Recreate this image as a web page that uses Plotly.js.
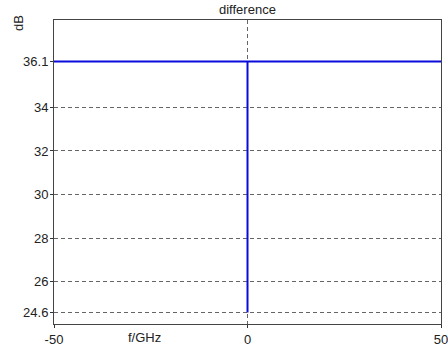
<!DOCTYPE html>
<html><head><meta charset="utf-8">
<script src="https://cdn.plot.ly/plotly-3.0.1.min.js"></script>
<style>html,body{margin:0;padding:0;background:#fff}#c{width:448px;height:347px}</style>
</head><body><div id="c"></div>
<script>
const freqGHz = [-50, 0, 0, 0, 50];
const diffDB = [36.1, 36.1, 24.6, 36.1, 36.1];
const xTicks = [-50, 0, 50];
const yTicks = [24.6, 26, 28, 30, 32, 34, 36.1];
const yTickText = ['24.6', '26', '28', '30', '32', '34', '36.1'];

const font = {family: 'Liberation Sans, Arial, sans-serif', size: 13, color: '#222'};
const sfont = {family: 'Liberation Sans, Arial, sans-serif', size: 13, color: '#222'};
Plotly.newPlot('c', [{
  x: freqGHz, y: diffDB, type: 'scatter', mode: 'lines',
  line: {color: '#0a0adc', width: 2}, hoverinfo: 'skip'
}], {
  width: 448, height: 347,
  margin: {l: 54, r: 7, t: 20, b: 23, pad: 0},
  paper_bgcolor: '#fff', plot_bgcolor: '#fff',
  showlegend: false, font: font,
  xaxis: {range: [-50, 50], tickvals: xTicks, ticktext: xTicks.map(String),
    showgrid: true, gridcolor: '#666', griddash: '4px,3px', gridwidth: 1,
    zeroline: false, showline: true, linecolor: '#444', linewidth: 1, mirror: true,
    ticks: 'outside', ticklen: 3, tickcolor: '#333', tickfont: font,
    ticklabeloverflow: 'allow'},
  yaxis: {range: [24.07, 38], tickvals: yTicks, ticktext: yTickText,
    showgrid: true, gridcolor: '#666', griddash: '4px,3px', gridwidth: 1,
    zeroline: false, showline: true, linecolor: '#444', linewidth: 1, mirror: true,
    ticks: 'outside', ticklen: 3, tickcolor: '#333', tickfont: font,
    ticklabelstandoff: -1},
  annotations: [
    {text: 'difference', xref: 'paper', yref: 'paper', x: 0.5, y: 1, yshift: 11,
     showarrow: false, font: sfont, xanchor: 'center', yanchor: 'middle'},
    {text: 'dB', xref: 'paper', yref: 'paper', x: 0, xshift: -36, y: 1, yshift: -3,
     textangle: -90, showarrow: false, font: sfont, xanchor: 'center', yanchor: 'middle'},
    {text: 'f/GHz', xref: 'paper', yref: 'paper', x: 0.235, y: 0, yshift: -23,
     showarrow: false, font: sfont, xanchor: 'center', yanchor: 'bottom'}
  ]
}, {staticPlot: true});
</script></body></html>
